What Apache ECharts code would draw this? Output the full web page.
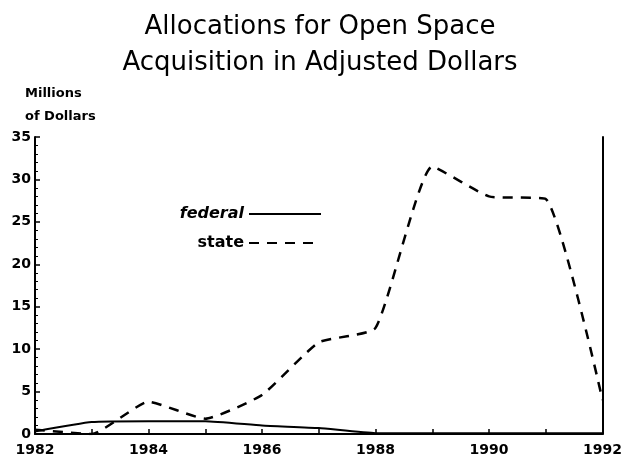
<!DOCTYPE html>
<html>
<head>
<meta charset="utf-8">
<script src="https://cdn.jsdelivr.net/npm/echarts@6/dist/echarts.min.js"></script>
<style>
    html, body { margin: 0; padding: 0; background: #fff; }
    #main { width: 625px; height: 462px; }
</style>
</head>
<body>
<div id="main"></div>
<script>
    var years = ['1982', '1983', '1984', '1985', '1986', '1987', '1988', '1989', '1990', '1991', '1992'];
    var federal = [0.3, 1.4, 1.5, 1.5, 1.0, 0.7, 0.1, 0.1, 0.1, 0.1, 0.1];
    var state = [0.5, 0.0, 3.8, 1.8, 4.6, 10.8, 12.5, 31.5, 28.0, 27.7, 4.0];
    var yTicks = [0, 5, 10, 15, 20, 25, 30, 35];

    var myChart = echarts.init(document.getElementById('main'));
    var labelFont = {
        fontFamily: 'DejaVu Sans',
        fontWeight: 'bold',
        fontSize: 14,
        color: '#000'
    };
    var legendText = {fontFamily: 'DejaVu Sans', fontWeight: 'bold', fontSize: 16, color: '#000'};

    var option = {
        backgroundColor: '#fff',
        animation: false,
        title: [{
            text: 'Allocations for Open Space\nAcquisition in Adjusted Dollars',
            left: 315,
            top: 4,
            textAlign: 'center',
            textStyle: {
                fontFamily: 'DejaVu Sans',
                fontWeight: 'normal',
                fontSize: 26,
                lineHeight: 36,
                color: '#000'
            }
        }, {
            text: 'Millions\nof Dollars',
            left: 25,
            top: 82,
            padding: 0,
            textStyle: {
                fontFamily: 'DejaVu Sans',
                fontWeight: 'bold',
                fontSize: 13,
                lineHeight: 23,
                color: '#000'
            }
        }],
        legend: [{
            data: [{name: 'federal', textStyle: {fontStyle: 'italic'}}],
            align: 'right',
            right: 303,
            top: 206,
            padding: 0,
            itemWidth: 72,
            itemHeight: 14,
            itemStyle: {opacity: 0},
            textStyle: legendText
        }, {
            data: ['state'],
            align: 'right',
            right: 303,
            top: 235,
            padding: 0,
            itemWidth: 72,
            itemHeight: 14,
            itemStyle: {opacity: 0},
            textStyle: legendText
        }],
        grid: {
            left: 35,
            right: 14,
            top: 137,
            bottom: 28
        },
        xAxis: {
            type: 'category',
            boundaryGap: false,
            data: years,
            axisLine: {lineStyle: {color: '#000', width: 2}},
            axisTick: {inside: true, length: 5, interval: 0, lineStyle: {color: '#000', width: 1.5}},
            axisLabel: Object.assign({interval: 1, margin: 9}, labelFont),
            splitLine: {show: false}
        },
        yAxis: [{
            type: 'value',
            min: yTicks[0],
            max: yTicks[yTicks.length - 1],
            interval: 5,
            axisLine: {show: true, lineStyle: {color: '#000', width: 2}},
            axisTick: {show: true, inside: true, length: 5, lineStyle: {color: '#000', width: 1.5}},
            minorTick: {show: true, splitNumber: 5, length: 3, lineStyle: {color: '#000', width: 1}},
            axisLabel: Object.assign({margin: 4}, labelFont),
            splitLine: {show: false}
        }, {
            type: 'value',
            position: 'right',
            min: yTicks[0],
            max: yTicks[yTicks.length - 1],
            interval: 5,
            axisLine: {show: true, lineStyle: {color: '#000', width: 2}},
            axisTick: {show: false},
            axisLabel: {show: false},
            splitLine: {show: false}
        }],
        series: [{
            name: 'federal',
            type: 'line',
            data: federal,
            symbol: 'none',
            smooth: 0.15,
            lineStyle: {color: '#000', width: 2, type: 'solid'},
            itemStyle: {color: '#000'}
        }, {
            name: 'state',
            type: 'line',
            data: state,
            symbol: 'none',
            smooth: 0.15,
            lineStyle: {color: '#000', width: 2.5, type: [10, 8]},
            itemStyle: {color: '#000'}
        }]
    };
    myChart.setOption(option);
</script>
</body>
</html>
